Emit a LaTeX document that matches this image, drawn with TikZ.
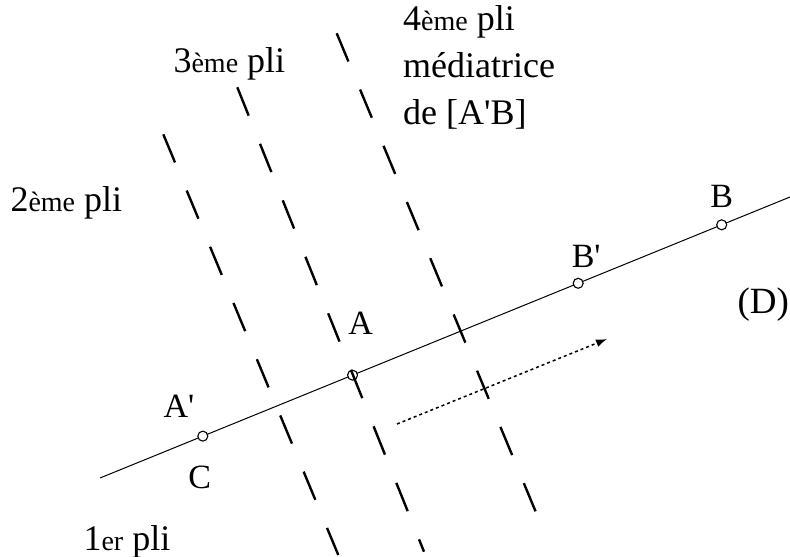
\documentclass[tikz,border=0pt]{standalone}
\usepackage{fontspec}
\setmainfont{Liberation Serif}
\usetikzlibrary{arrows.meta,positioning,calc}

\newcommand{\ordsuf}[1]{{\fontsize{28}{28}\selectfont #1}}

\begin{document}
\begin{tikzpicture}[
    x=1pt, y=-1pt,
    pointmark/.style={circle, draw, line width=1.1pt, fill=white, inner sep=0pt, minimum size=10pt},
    foldline/.style={line width=2.4pt, dash pattern=on 30.5pt off 30.4pt},
    ptlabel/.style={font=\fontsize{34}{38}\selectfont},
    plilabel/.style={font=\fontsize{36}{47}\selectfont, anchor=base west, align=left}
]
    \useasboundingbox (0,0) rectangle (790,557);

    % la droite (D)
    \coordinate (Dw) at (100,478);
    \coordinate (De) at (790,197);
    \draw[line width=1pt] (Dw) -- (De);

    \path (Dw) -- (De)
        node[pointmark, pos=0.149] (Ap) {}
        node[pointmark, pos=0.366] (A) {}
        node[pointmark, pos=0.693] (Bp) {}
        node[pointmark, pos=0.901] (B) {};

    \node[ptlabel, above left=11pt and 1pt of Ap] (ApLabel) {A\textquotesingle};
    \node[ptlabel, below=21pt of Ap, xshift=-3pt] (CLabel) {C};
    \node[ptlabel, above=32pt of A, xshift=8pt] (ALabel) {A};
    \node[ptlabel, above=7pt of Bp, xshift=8pt] (BpLabel) {B\textquotesingle};
    \node[ptlabel, above=8pt of B] (BLabel) {B};
    \node[font=\fontsize{37}{40}\selectfont, anchor=base west] (DLabel) at (734,313) {(D)};

    % les plis
    \coordinate (f1s) at (163.3,134.3);
    \coordinate (f1e) at (338.3,555);
    \coordinate (f2s) at (237.3,87.3);
    \coordinate (f2e) at (424,551.7);
    \coordinate (f3s) at (336.7,33.3);
    \coordinate (f3e) at (535.7,511.7);
    \draw[foldline] (f1s) -- (f1e);
    \draw[foldline] (f2s) -- (f2e);
    \draw[foldline] (f3s) -- (f3e);

    \node[plilabel] (pli1) at (80,550) {1\ordsuf{er} pli};
    \node[plilabel] (pli2) at (7,211.7) {2\ordsuf{ème} pli};
    \node[plilabel] (pli3) at (170,72) {3\ordsuf{ème} pli};
    \node[plilabel, anchor=north west] (pli4) at (399.7,2) {4\ordsuf{ème} pli\\médiatrice\\de [A\textquotesingle B]};

    % sens du deplacement
    \coordinate (arrs) at (397,424);
    \coordinate (arre) at (607,339);
    \draw[line width=1.5pt, dash pattern=on 3pt off 3pt, -{Latex[length=11pt, width=8pt]}] (arrs) -- (arre);
\end{tikzpicture}
\end{document}
